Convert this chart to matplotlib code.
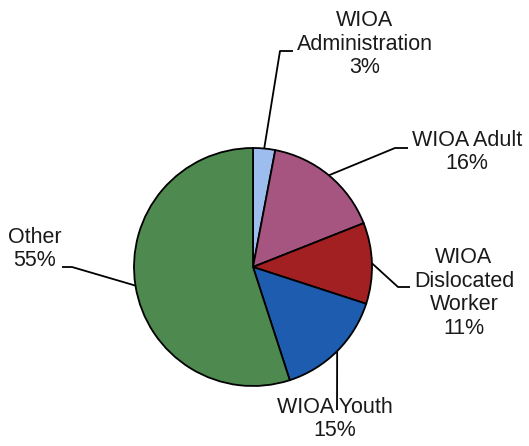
import numpy as np
import matplotlib
matplotlib.use("Agg")
import matplotlib.pyplot as plt

labels = ["WIOA\nAdministration", "WIOA Adult", "WIOA\nDislocated\nWorker",
          "WIOA Youth", "Other"]
shares = [3, 16, 11, 15, 55]
colors = ["#9dbdee", "#a5557f", "#a21f22", "#1d5cae", "#4e8a4f"]

# label placement in pixel coordinates (y measured from the top)
text_pos = [(365, 44), (467, 152), (464, 293), (335, 419), (35, 249)]
# leader line bends: elbow point, then the end next to the text
elbows = [[(280, 51), (293, 51)],
          [(395, 148), (408, 148)],
          [(398, 287), (410, 287)],
          [(337, 410)],
          [(72, 267), (62, 267)]]

W, H = 529, 446
CX, CY, R = 253, 267, 119


def flip(pt):
    return pt[0], H - pt[1]


def main():
    plt.rcParams["font.family"] = ["Liberation Sans", "DejaVu Sans"]
    fig = plt.figure(figsize=(W / 100, H / 100), dpi=100)
    ax = fig.add_axes([0, 0, 1, 1])

    center = flip((CX, CY))
    wedges, _ = ax.pie(shares, colors=colors, startangle=90, counterclock=False,
                       center=center, radius=R, frame=True,
                       wedgeprops=dict(edgecolor="black", linewidth=1.3))
    ax.set_xlim(0, W)
    ax.set_ylim(0, H)
    ax.set_aspect("equal")
    ax.axis("off")

    for w, lab, val, tp, bend in zip(wedges, labels, shares, text_pos, elbows):
        mid = np.deg2rad((w.theta1 + w.theta2) / 2)
        anchor = (center[0] + R * np.cos(mid), center[1] + R * np.sin(mid))
        pts = [anchor] + [flip(p) for p in bend]
        xs, ys = zip(*pts)
        ax.plot(xs, ys, color="black", linewidth=1.3, solid_capstyle="butt")
        tx, ty = flip(tp)
        ax.text(tx, ty, f"{lab}\n{val}%", ha="center", va="center",
                fontsize=15.5, color="#1a1a1a", linespacing=1.15)

    fig.savefig("out.png", dpi=100)


main()
